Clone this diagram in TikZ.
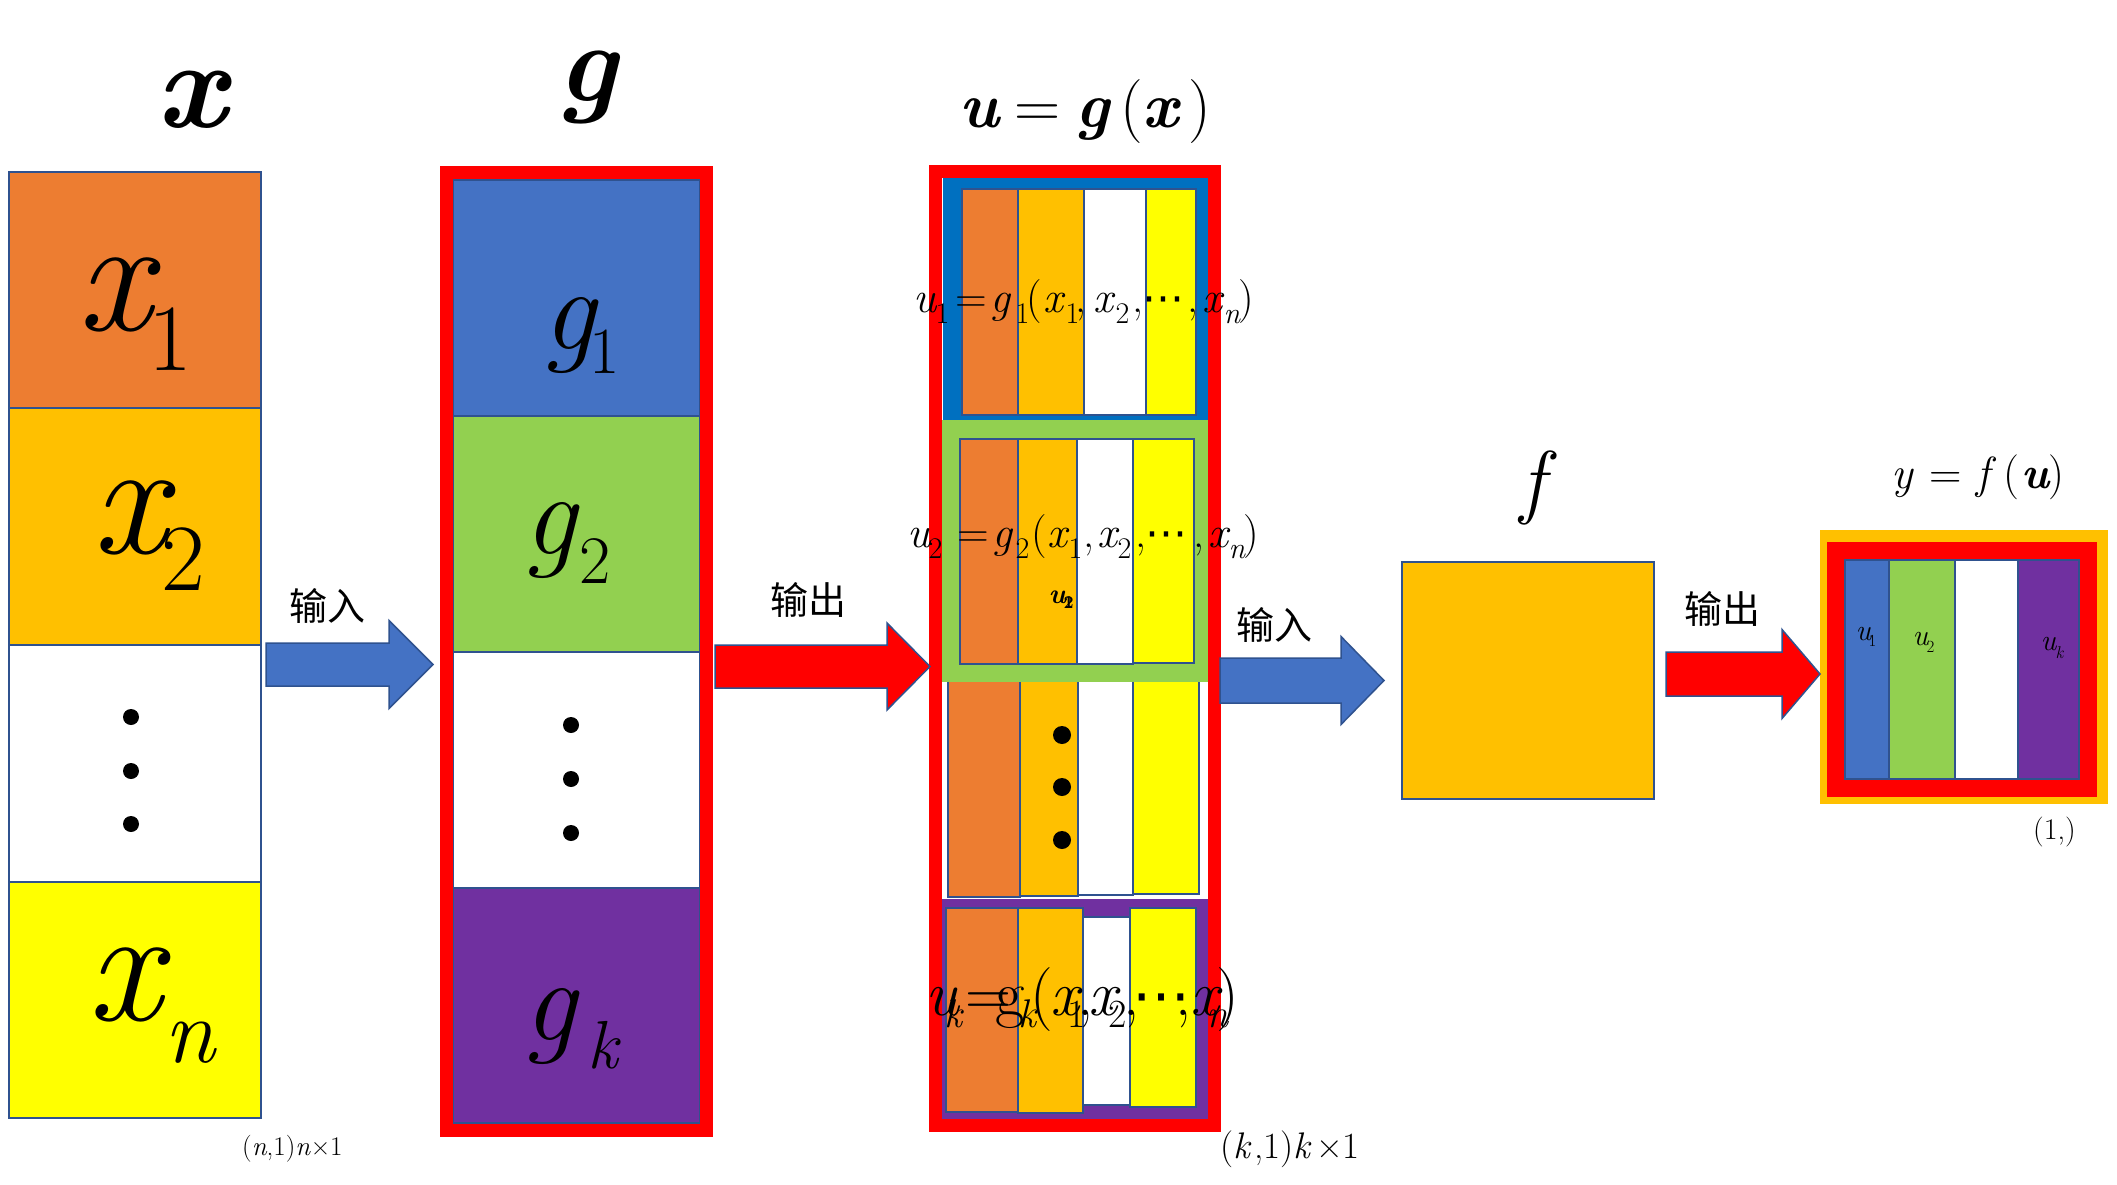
\documentclass[tikz,border=0pt]{standalone}
\usepackage{fontspec}
\newfontfamily\cjk{Noto Sans CJK SC}
\newfontfamily\djv{DejaVu Sans}
\usetikzlibrary{calc}
\definecolor{corange}{HTML}{ED7D31}
\definecolor{cgold}{HTML}{FFC000}
\definecolor{cyellow}{HTML}{FFFF00}
\definecolor{cblue}{HTML}{4472C4}
\definecolor{cgreen}{HTML}{92D050}
\definecolor{cpurple}{HTML}{7030A0}
\definecolor{cred}{HTML}{FF0000}
\definecolor{cframe}{HTML}{0070C0}
\definecolor{outl}{HTML}{2F528F}
\newcommand\fs[1]{\fontsize{#1}{#1}\selectfont}
\newcommand\putat[2]{\rlap{\kern#1pt #2}}
\newcommand\lowsub[3]{\raisebox{-#1pt}{\fs{#2}\upshape #3}}
\newcommand\mydots[1]{{\djv\fs{#1}⋯}}
\newcommand\blockarrow[6]{%
  \draw[draw=outl, line width=1.5pt, fill=#1] let \p1=(#2), \p2=(#3) in
   (\x1,\y2+#4pt) -- (\x2-#6pt,\y2+#4pt) -- (\x2-#6pt,\y2+#5pt) -- (\x2,\y2)
   -- (\x2-#6pt,\y2-#5pt) -- (\x2-#6pt,\y2-#4pt) -- (\x1,\y2-#4pt) -- cycle;}
\begin{document}
\begin{tikzpicture}[x=1pt,y=-1pt,
  lab/.style={inner sep=0pt,anchor=base west},
  cell/.style={draw=outl,line width=2.5pt},
  redframe/.style={draw=cred,line width=13pt}]
\fill[white] (0,0) rectangle (2117,1185);
\useasboundingbox (0,0) rectangle (2117,1185);

% ---------- x column ----------
\filldraw[cell,fill=corange] (9,172) rectangle (261,408);
\filldraw[cell,fill=cgold]   (9,408) rectangle (261,645);
\filldraw[cell,fill=white]   (9,645) rectangle (261,882);
\filldraw[cell,fill=cyellow] (9,882) rectangle (261,1118);
\fill (131,717) circle (8pt) (131,771) circle (8pt) (131,824) circle (8pt);
\node[lab] (x1) at (77,330) {\putat{0}{\fs{165}\itshape x}\putat{71}{\lowsub{40}{95}{1}}};
\node[lab] (x2) at (92,553) {\putat{0}{\fs{165}\itshape x}\putat{69}{\lowsub{37}{95}{2}}};
\node[lab] (xn) at (87,1020) {\putat{0}{\fs{165}\itshape x}\putat{77}{\lowsub{42}{92}{\itshape n}}};
\node[inner sep=0pt,anchor=base,font={\fs{125}\bfseries\itshape}] (xt) at (192,128) {x};
\node[lab,font={\fs{27}}] (xdim) at (242,1155) {(\textit{n},1)\textit{n}×1};

% ---------- g column ----------
\filldraw[cell,fill=cblue]   (453,180) rectangle (700,416);
\filldraw[cell,fill=cgreen]  (453,416) rectangle (700,652);
\filldraw[cell,fill=white]   (453,652) rectangle (700,888);
\filldraw[cell,fill=cpurple] (453,888) rectangle (700,1123);
\draw[redframe] (446.5,172.5) rectangle (706.5,1130.5);
\fill (571,725) circle (8pt) (571,779) circle (8pt) (571,833) circle (8pt);
\node[lab] (g1) at (542,349) {\putat{0}{\fs{118}\itshape g}\putat{47}{\lowsub{24}{66}{1}}};
\node[lab] (g2) at (523,554) {\putat{0}{\fs{118}\itshape g}\putat{56}{\lowsub{29}{68}{2}}};
\node[lab] (gk) at (523,1040) {\putat{0}{\fs{118}\itshape g}\putat{64}{\lowsub{28}{68}{\itshape k}}};
\node[inner sep=0pt,anchor=base,font={\fs{112}\bfseries\itshape}] (gt) at (587,102) {g};

% ---------- u column ----------
% third (dots) block
\filldraw[cell,fill=corange] (948,670) rectangle (1020,897);
\filldraw[cell,fill=cgold]   (1020,670) rectangle (1078,896);
\filldraw[cell,fill=white]   (1078,670) rectangle (1133,895);
\filldraw[cell,fill=cyellow] (1133,670) rectangle (1199,894);
\fill (1062,735) circle (9pt) (1062,787) circle (9pt) (1062,840) circle (9pt);
% u1 block
\fill[cframe] (943,178) rectangle (1208,420);
\filldraw[cell,fill=corange] (962,189) rectangle (1018,415);
\filldraw[cell,fill=cgold]   (1018,189) rectangle (1084,415);
\filldraw[cell,fill=white]   (1084,189) rectangle (1146,415);
\filldraw[cell,fill=cyellow] (1146,189) rectangle (1196,415);
% u2 block
\fill[cgreen] (942,420) rectangle (1208,682);
\filldraw[cell,fill=corange] (960,439) rectangle (1018,664);
\filldraw[cell,fill=cgold]   (1018,439) rectangle (1077,664);
\filldraw[cell,fill=white]   (1077,439) rectangle (1133,664);
\filldraw[cell,fill=cyellow] (1133,439) rectangle (1194,663);
% uk block
\fill[cpurple] (942,899) rectangle (1208,1119);
\filldraw[cell,fill=corange] (946,908) rectangle (1018,1112);
\filldraw[cell,fill=white]   (1083,917) rectangle (1130,1105);
\filldraw[cell,fill=cgold]   (1018,908) rectangle (1083,1113);
\filldraw[cell,fill=cyellow] (1130,908) rectangle (1196,1107);
\draw[redframe] (935.5,171.5) rectangle (1214.5,1125.5);

\node[lab,font={\fs{44}}] (uf1) at (913,312) {%
\putat{0}{\itshape u}\putat{22}{\lowsub{11}{30}{1}}\putat{42}{=}%
\putat{77}{\itshape g}\putat{102}{\lowsub{11}{30}{1}}\putat{113}{(}%
\putat{130}{\itshape x}\putat{152}{\lowsub{11}{30}{1}}\putat{162}{,}%
\putat{180}{\itshape x}\putat{202}{\lowsub{11}{30}{2}}\putat{219}{,}%
\putat{229}{\mydots{42}}\putat{274}{,}%
\putat{289}{\itshape x}\putat{310}{\lowsub{11}{30}{\itshape n}}\putat{325}{)}};
\node[lab,font={\fs{44}}] (uf2) at (907,547) {%
\putat{0}{\itshape u}\putat{21}{\lowsub{11}{30}{2}}\putat{50}{=}%
\putat{85}{\itshape g}\putat{108}{\lowsub{11}{30}{2}}\putat{124}{(}%
\putat{140}{\itshape x}\putat{161}{\lowsub{11}{30}{1}}\putat{176}{,}%
\putat{190}{\itshape x}\putat{210}{\lowsub{11}{30}{2}}\putat{228}{,}%
\putat{238}{\mydots{42}}\putat{286}{,}%
\putat{301}{\itshape x}\putat{321}{\lowsub{11}{30}{\itshape n}}\putat{336}{)}};
\node[lab,font={\fs{64}}] (ufk) at (925,1015) {%
\putat{0}{\itshape u}\putat{19}{\lowsub{12}{40}{\itshape k}}\putat{40}{=}%
\putat{70}{g}\putat{93}{\lowsub{12}{40}{\itshape k}}\putat{105}{(}%
\putat{125}{\itshape x}\putat{142}{\lowsub{12}{40}{1}}\putat{152}{,}%
\putat{163}{\itshape x}\putat{183}{\lowsub{12}{40}{2}}\putat{198}{,}%
\putat{207}{\mydots{58}}\putat{250}{,}%
\putat{265}{\itshape x}\putat{281}{\lowsub{12}{40}{\itshape n}}\putat{291}{)}};
\node[lab,font={\fs{28}\bfseries}] (usm) at (1048,603) {%
\putat{0}{\itshape u}\putat{15}{\lowsub{5}{18}{\bfseries 1}}\putat{15}{\lowsub{5}{18}{\bfseries 2}}};
\node[lab,font={\fs{64}}] (ut) at (959,128) {%
\putat{0}{\bfseries\itshape u}\putat{55}{=}\putat{116}{\bfseries\itshape g}%
\putat{161}{(}\putat{183}{\bfseries\itshape x}\putat{229}{)}};
\node[lab,font={\fs{37}}] (udim) at (1220,1158) {(\textit{k}\kern3pt,1)\textit{k}\kern4pt×1};

% ---------- f box ----------
\filldraw[cell,fill=cgold] (1402,562) rectangle (1654,799);
\node[inner sep=0pt,anchor=base,font={\fs{82}\itshape}] (ft) at (1533,508) {f};

% ---------- output ----------
\fill[cgold] (1820,530) rectangle (2108,804);
\fill[cred] (1827,542) rectangle (2097,797);
\filldraw[cell,fill=cblue]   (1845,560) rectangle (1889,779);
\filldraw[cell,fill=cgreen]  (1889,560) rectangle (1955,779);
\filldraw[cell,fill=white]   (1955,560) rectangle (2018,779);
\filldraw[cell,fill=cpurple] (2018,560) rectangle (2079,779);
\node[lab,font={\fs{30}}] (o1) at (1855,640) {\putat{0}{\itshape u}\putat{13}{\lowsub{6}{17}{1}}};
\node[lab,font={\fs{30}}] (o2) at (1912,645) {\putat{0}{\itshape u}\putat{14}{\lowsub{7}{17}{2}}};
\node[lab,font={\fs{30}}] (ok) at (2040,650) {\putat{0}{\itshape u}\putat{15}{\lowsub{8}{17}{\itshape k}}};
\node[lab,font={\fs{45}}] (yt) at (1891,488) {%
\putat{0}{\itshape y}\putat{38}{=}\putat{85}{\itshape f}\putat{112}{(}%
\putat{130}{\bfseries\itshape u}\putat{157}{)}};
\node[lab,font={\fs{30}}] (ydim) at (2033,839) {(1,)};

% ---------- arrows ----------
\coordinate (a1s) at (266,664.5);  \coordinate (a1t) at (433,664.5);
\coordinate (a2s) at (715,666.5);  \coordinate (a2t) at (930,666.5);
\coordinate (a3s) at (1220,680.5); \coordinate (a3t) at (1384,680.5);
\coordinate (a4s) at (1666,674);   \coordinate (a4t) at (1820,674);
\blockarrow{cblue}{a1s}{a1t}{21.5}{44}{44}
\blockarrow{cred}{a2s}{a2t}{21.5}{43.5}{43}
\blockarrow{cblue}{a3s}{a3t}{22.5}{44}{43}
\blockarrow{cred}{a4s}{a4t}{22}{44.5}{38}
\node[inner sep=0pt,font={\cjk\fs{38}}] (l1) at (327,606) {输入};
\node[inner sep=0pt,font={\cjk\fs{38}}] (l2) at (808,600) {输出};
\node[inner sep=0pt,font={\cjk\fs{38}}] (l3) at (1274,625) {输入};
\node[inner sep=0pt,font={\cjk\fs{38}}] (l4) at (1722,609) {输出};
\end{tikzpicture}
\end{document}
